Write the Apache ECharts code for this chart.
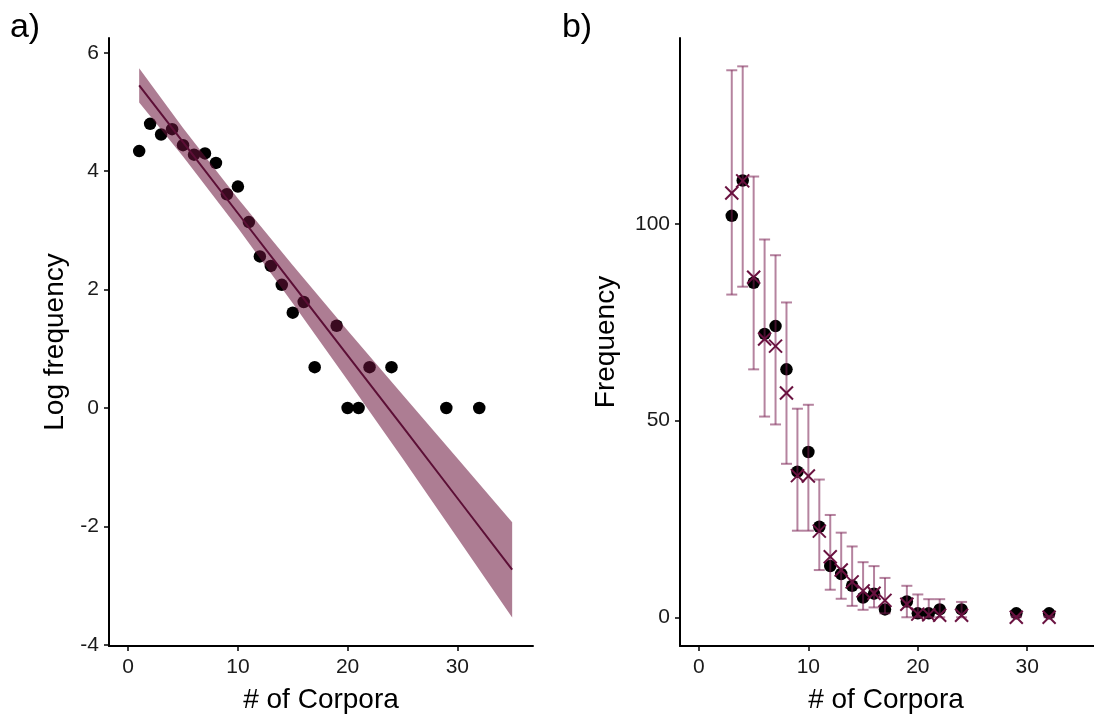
<!DOCTYPE html>
<html><head><meta charset="utf-8">
<script src="https://cdn.jsdelivr.net/npm/echarts@6/dist/echarts.min.js"></script>
<style>html,body{margin:0;padding:0;background:#fff}#c{width:1094px;height:715px}</style>
</head><body><div id="c"></div>
<script>
// Panel a: log frequency by number of corpora
const corporaA = [1,2,3,4,5,6,7,8,9,10,11,12,13,14,15,16,17,19,20,21,22,24,29,32];
const logFreq  = [4.34,4.80,4.62,4.71,4.44,4.28,4.30,4.14,3.61,3.74,3.14,2.56,2.40,2.08,1.61,1.79,0.69,1.39,0,0,0.69,0.69,0,0];
// fitted line + ribbon
const fitX    = [1,5,10,15,20,25,30,35];
const fitY    = [5.45,4.49,3.29,2.09,0.89,-0.31,-1.52,-2.73];
const fitLow  = [5.16,4.25,3.04,1.77,0.47,-0.85,-2.19,-3.54];
const fitHigh = [5.74,4.73,3.54,2.41,1.31,0.23,-0.85,-1.93];
// Panel b: observed vs predicted frequency
const corporaB  = [3,4,5,6,7,8,9,10,11,12,13,14,15,16,17,19,20,21,22,24,29,32];
const observed  = [102,111,85,72,74,63,37,42,23,13,11,8,5,6,2,4,1,1,2,2,1,1];
const predicted = [107.8,110.9,86.4,70.7,68.9,57,36,35.9,21.9,15.4,12,9,6.7,6.1,4.3,3.3,0.8,0.6,0.5,0.5,0,0];
const errLow    = [82,84,63,51,49,39,22,22,12,7,4.7,2.9,1.9,2.5,1,0,0,0,0,0,0,0];
const errHigh   = [139,140,112,96,92,80,53,54,35,26,21.5,18,14,13,10,8,5.8,4.6,4.6,3.9,0.3,0.3];
const ticksAY = [-4,-2,0,2,4,6];
const ticksX  = [0,10,20,30];
const ticksBY = [0,50,100];

const FONT = 'Liberation Sans';
const ribbonCol = 'rgba(105,18,58,0.55)';
const lineCol = '#5c0f36';
const errCol = 'rgba(120,30,80,0.55)';
const crossCol = '#6a1240';
const TICKFS = 21, TITLEFS = 28;

function axisX(idx, min, max){
  return {gridIndex: idx, type:'value', min, max,
    axisLine:{show:true, onZero:false, lineStyle:{color:'#000', width:2}},
    axisTick:{show:true, length:5, lineStyle:{color:'#000', width:1.5}, customValues: ticksX},
    axisLabel:{fontFamily:FONT, fontSize:TICKFS, color:'#1a1a1a', margin:11, customValues: ticksX},
    splitLine:{show:false}};
}
function axisY(idx, min, max, ticks){
  return {gridIndex: idx, type:'value', min, max,
    axisLine:{show:true, onZero:false, lineStyle:{color:'#000', width:2}},
    axisTick:{show:true, length:5, lineStyle:{color:'#000', width:1.5}, customValues: ticks},
    axisLabel:{fontFamily:FONT, fontSize:TICKFS, color:'#1a1a1a', margin:10, customValues: ticks},
    splitLine:{show:false}};
}

const chart = echarts.init(document.getElementById('c'), null, {renderer:'canvas'});
chart.setOption({
  animation:false,
  grid:[
    {left:109, top:38, width:424, height:608},
    {left:680, top:38, width:414, height:608}
  ],
  xAxis:[axisX(0,-1.75,36.9), axisX(1,-1.73,36.1)],
  yAxis:[axisY(0,-4.02,6.25,ticksAY), axisY(1,-7.3,147.2,ticksBY)],
  graphic:[
    {type:'text', x:25, y:28, style:{text:'a)', fontFamily:FONT, fontSize:34, fill:'#000', align:'center', verticalAlign:'middle'}},
    {type:'text', x:577, y:28, style:{text:'b)', fontFamily:FONT, fontSize:34, fill:'#000', align:'center', verticalAlign:'middle'}},
    {type:'text', x:55, y:342, rotation:Math.PI/2, style:{text:'Log frequency', fontFamily:FONT, fontSize:TITLEFS, fill:'#000', align:'center', verticalAlign:'middle'}},
    {type:'text', x:606, y:342, rotation:Math.PI/2, style:{text:'Frequency', fontFamily:FONT, fontSize:TITLEFS, fill:'#000', align:'center', verticalAlign:'middle'}},
    {type:'text', x:321, y:700, style:{text:'# of Corpora', fontFamily:FONT, fontSize:TITLEFS, fill:'#000', align:'center', verticalAlign:'middle'}},
    {type:'text', x:886, y:700, style:{text:'# of Corpora', fontFamily:FONT, fontSize:TITLEFS, fill:'#000', align:'center', verticalAlign:'middle'}}
  ],
  series:[
    {type:'scatter', xAxisIndex:0, yAxisIndex:0, data: corporaA.map((x,i)=>[x, logFreq[i]]),
     symbol:'circle', symbolSize:12.5, itemStyle:{color:'#000', opacity:1}, z:2},
    {type:'custom', xAxisIndex:0, yAxisIndex:0, data:[[fitX[0], fitY[0]]], z:3,
     renderItem:function(params, api){
       const pts = [];
       for(let i=0;i<fitX.length;i++) pts.push(api.coord([fitX[i], fitHigh[i]]));
       for(let i=fitX.length-1;i>=0;i--) pts.push(api.coord([fitX[i], fitLow[i]]));
       return {type:'polygon', shape:{points:pts}, style:{fill:ribbonCol}};
     }},
    {type:'line', xAxisIndex:0, yAxisIndex:0, data: fitX.map((x,i)=>[x, fitY[i]]),
     symbol:'none', lineStyle:{color:lineCol, width:2}, z:4},
    {type:'scatter', xAxisIndex:1, yAxisIndex:1, data: corporaB.map((x,i)=>[x, observed[i]]),
     symbol:'circle', symbolSize:12.5, itemStyle:{color:'#000', opacity:1}, z:2},
    {type:'custom', xAxisIndex:1, yAxisIndex:1, z:3,
     data: corporaB.map((x,i)=>[x, errLow[i], errHigh[i]]),
     renderItem:function(params, api){
       const lo = api.coord([api.value(0), api.value(1)]);
       const hi = api.coord([api.value(0), api.value(2)]);
       const w = 5.5;
       const st = {stroke:errCol, lineWidth:2, fill:null};
       return {type:'group', children:[
         {type:'line', shape:{x1:lo[0], y1:lo[1], x2:hi[0], y2:hi[1]}, style:st},
         {type:'line', shape:{x1:lo[0]-w, y1:lo[1], x2:lo[0]+w, y2:lo[1]}, style:st},
         {type:'line', shape:{x1:hi[0]-w, y1:hi[1], x2:hi[0]+w, y2:hi[1]}, style:st}
       ]};
     }},
    {type:'custom', xAxisIndex:1, yAxisIndex:1, z:4,
     data: corporaB.map((x,i)=>[x, predicted[i]]),
     renderItem:function(params, api){
       const p = api.coord([api.value(0), api.value(1)]);
       const s = 6.5;
       const st = {stroke:crossCol, lineWidth:2, fill:null};
       return {type:'group', children:[
         {type:'line', shape:{x1:p[0]-s, y1:p[1]-s, x2:p[0]+s, y2:p[1]+s}, style:st},
         {type:'line', shape:{x1:p[0]-s, y1:p[1]+s, x2:p[0]+s, y2:p[1]-s}, style:st}
       ]};
     }}
  ]
});
</script></body></html>
